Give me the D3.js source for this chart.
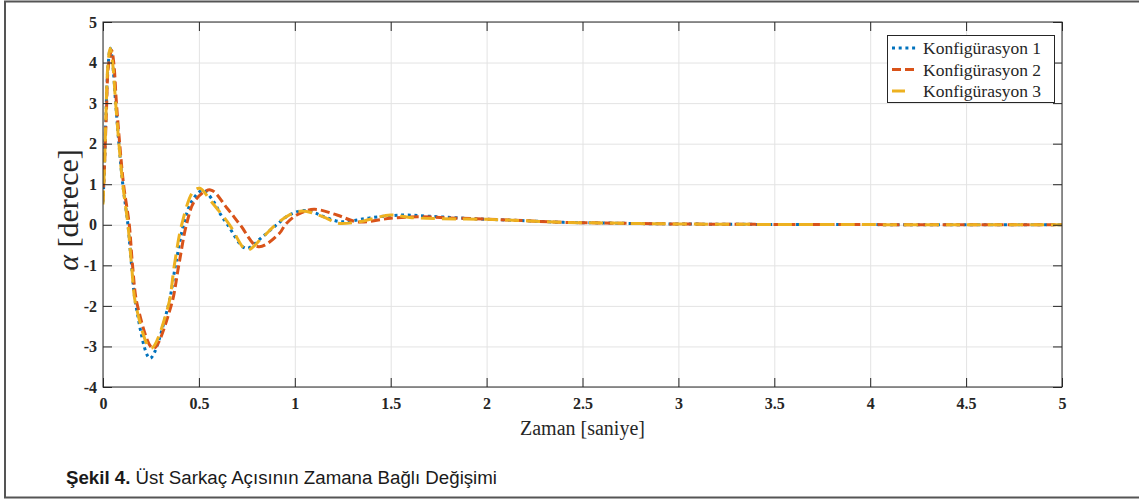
<!DOCTYPE html>
<html lang="tr">
<head>
    <meta charset="UTF-8">
    <title>Şekil 4</title>
    <script src="https://cdn.jsdelivr.net/npm/d3@7"></script>
    <style>
        body { margin: 0; background: #fff; }
        .tick text { font-family: "Liberation Serif", "Times New Roman", serif; font-weight: bold; font-size: 16px; fill: #262626; }
        .grid line { stroke: #e3e3e3; stroke-width: 1; }
        .grid path { stroke: none; }
    </style>
</head>
<body>
<svg id="chart" width="1139" height="501"></svg>
<script>
// zaman (s) ve açı (derece) değerleri
const t1 = [0, 0.008, 0.016, 0.026, 0.038, 0.05, 0.066, 0.083, 0.103, 0.13, 0.149, 0.172, 0.245, 0.34, 0.378, 0.42, 0.462, 0.52, 0.58, 0.61, 0.65, 0.745, 0.83, 0.905, 0.97, 1.04, 1.1, 1.15, 1.235, 1.3, 1.39, 1.56, 1.7, 1.85, 2.0, 2.2, 2.4, 2.6, 2.8, 3.0, 3.3, 3.6, 4.0, 4.5, 5.0];
const alpha1 = [0.55, 1.5, 2.8, 3.9, 4.35, 4.0, 3.0, 2.0, 1.0, 0, -1, -2, -3.29, -2, -1, 0, 0.57, 0.85, 0.55, 0.28, 0, -0.58, -0.3, 0, 0.24, 0.35, 0.3, 0.2, 0.08, 0.1, 0.17, 0.24, 0.21, 0.17, 0.135, 0.1, 0.06, 0.045, 0.03, 0.02, 0.012, 0.007, 0.004, 0.002, 0];

const t2 = [0, 0.008, 0.018, 0.028, 0.045, 0.056, 0.07, 0.087, 0.107, 0.137, 0.154, 0.18, 0.262, 0.355, 0.395, 0.435, 0.48, 0.56, 0.645, 0.715, 0.81, 0.92, 0.95, 1.01, 1.1, 1.22, 1.33, 1.5, 1.65, 1.8, 2.0, 2.2, 2.4, 2.6, 2.8, 3.0, 3.3, 3.6, 4.0, 4.5, 5.0];
const alpha2 = [0.6, 1.5, 2.8, 3.9, 4.3, 4.0, 3.0, 2.0, 1.0, 0, -1, -2, -3.05, -2, -1, 0, 0.6, 0.86, 0.42, 0, -0.54, -0.21, 0, 0.24, 0.38, 0.24, 0.07, 0.16, 0.2, 0.17, 0.14, 0.1, 0.06, 0.045, 0.03, 0.02, 0.012, 0.007, 0.004, 0.002, 0];

const t3 = [0, 0.008, 0.016, 0.025, 0.037, 0.05, 0.066, 0.083, 0.103, 0.13, 0.149, 0.172, 0.25, 0.34, 0.372, 0.41, 0.47, 0.505, 0.56, 0.66, 0.75, 0.83, 0.9, 0.97, 1.04, 1.1, 1.166, 1.22, 1.32, 1.5, 1.6, 1.76, 2.0, 2.2, 2.4, 2.6, 2.8, 3.0, 3.3, 3.6, 4.0, 4.5, 5.0];
const alpha3 = [0.5, 1.5, 2.8, 3.9, 4.35, 4.0, 3.0, 2.0, 1.0, 0, -1, -2, -3.05, -2, -1, 0, 0.82, 0.9, 0.6, 0, -0.62, -0.32, 0, 0.24, 0.34, 0.28, 0.16, 0.04, 0.06, 0.24, 0.18, 0.15, 0.135, 0.1, 0.06, 0.045, 0.03, 0.02, 0.012, 0.007, 0.004, 0.002, 0];

const seriesNames = ['Konfigürasyon 1', 'Konfigürasyon 2', 'Konfigürasyon 3'];
const xTicks = [0, 0.5, 1, 1.5, 2, 2.5, 3, 3.5, 4, 4.5, 5];
const yTicks = [-4, -3, -2, -1, 0, 1, 2, 3, 4, 5];

const series = [
    { name: seriesNames[0], t: t1, v: alpha1, color: '#0072BD', dash: '3,3.7' },
    { name: seriesNames[1], t: t2, v: alpha2, color: '#D95319', dash: '9,4' },
    { name: seriesNames[2], t: t3, v: alpha3, color: '#EDB120', dash: '14,7' }
];

const svg = d3.select('#chart');

// dış çerçeve
svg.append('rect')
    .attr('x', 5).attr('y', 1.5)
    .attr('width', 1150).attr('height', 496)
    .attr('fill', 'none')
    .attr('stroke', '#555').attr('stroke-width', 2);

const pLeft = 103, pRight = 1062, pTop = 22, pBottom = 387;
const x = d3.scaleLinear().domain([0, 5]).range([pLeft, pRight]);
const y = d3.scaleLinear().domain([-4, 5]).range([pBottom, pTop]);

// ızgara
svg.append('g').attr('class', 'grid')
    .attr('transform', `translate(0,${pBottom})`)
    .call(d3.axisBottom(x).tickValues(xTicks).tickSize(-(pBottom - pTop)).tickFormat(''));
svg.append('g').attr('class', 'grid')
    .attr('transform', `translate(${pLeft},0)`)
    .call(d3.axisLeft(y).tickValues(yTicks).tickSize(-(pRight - pLeft)).tickFormat(''));

// eğriler
svg.append('clipPath').attr('id', 'plotClip')
    .append('rect').attr('x', pLeft).attr('y', pTop).attr('width', pRight - pLeft).attr('height', pBottom - pTop);

series.forEach(s => {
    const pts = s.t.map((tt, i) => [tt, s.v[i]]);
    const line = d3.line()
        .x(d => x(d[0]))
        .y(d => y(d[1]))
        .curve(d3.curveCatmullRom.alpha(0.5));
    svg.append('path')
        .datum(pts)
        .attr('clip-path', 'url(#plotClip)')
        .attr('d', line)
        .attr('fill', 'none')
        .attr('stroke', s.color)
        .attr('stroke-width', 3)
        .attr('stroke-dasharray', s.dash);
});

// eksenler (içe dönük tikler, dört kenarda)
const tk = 9;
svg.append('g')
    .attr('transform', `translate(0,${pBottom})`)
    .call(d3.axisBottom(x).tickValues(xTicks).tickSizeInner(-tk).tickSizeOuter(0).tickPadding(11).tickFormat(d => String(d)))
    .call(g => g.select('.domain').remove())
    .call(g => g.selectAll('line').attr('stroke', '#262626'));
svg.append('g')
    .attr('transform', `translate(${pLeft},0)`)
    .call(d3.axisLeft(y).tickValues(yTicks).tickSizeInner(-tk).tickSizeOuter(0).tickPadding(6).tickFormat(d => String(d)))
    .call(g => g.select('.domain').remove())
    .call(g => g.selectAll('line').attr('stroke', '#262626'));
svg.append('g')
    .attr('transform', `translate(0,${pTop})`)
    .call(d3.axisTop(x).tickValues(xTicks).tickSizeInner(-tk).tickSizeOuter(0).tickFormat(''))
    .call(g => g.select('.domain').remove())
    .call(g => g.selectAll('line').attr('stroke', '#262626'));
svg.append('g')
    .attr('transform', `translate(${pRight},0)`)
    .call(d3.axisRight(y).tickValues(yTicks).tickSizeInner(-tk).tickSizeOuter(0).tickFormat(''))
    .call(g => g.select('.domain').remove())
    .call(g => g.selectAll('line').attr('stroke', '#262626'));

svg.append('rect')
    .attr('x', pLeft).attr('y', pTop)
    .attr('width', pRight - pLeft).attr('height', pBottom - pTop)
    .attr('fill', 'none').attr('stroke', '#262626').attr('stroke-width', 1);

// eksen başlıkları
svg.append('text')
    .attr('x', (pLeft + pRight) / 2).attr('y', 435)
    .attr('text-anchor', 'middle')
    .attr('font-family', '"Liberation Serif", "Times New Roman", serif')
    .attr('font-size', '20px').attr('fill', '#262626')
    .text('Zaman [saniye]');

const yl = svg.append('text')
    .attr('transform', 'translate(78,210) rotate(-90)')
    .attr('text-anchor', 'middle')
    .attr('font-family', '"Liberation Serif", "Times New Roman", serif')
    .attr('font-size', '30px').attr('fill', '#262626');
yl.append('tspan').attr('font-style', 'italic').text('α');
yl.append('tspan').text(' [derece]');

// lejant
const lg = svg.append('g');
lg.append('rect')
    .attr('x', 887.5).attr('y', 35.5).attr('width', 167).attr('height', 67)
    .attr('fill', '#fff').attr('stroke', '#262626').attr('stroke-width', 1);
series.forEach((s, i) => {
    const ly = 48 + i * 21.5;
    lg.append('line')
        .attr('x1', 892).attr('x2', 917).attr('y1', ly).attr('y2', ly)
        .attr('stroke', s.color).attr('stroke-width', 3)
        .attr('stroke-dasharray', i === 2 ? '13,30' : s.dash);
    lg.append('text')
        .attr('x', 923).attr('y', ly + 6)
        .attr('font-family', '"Liberation Serif", "Times New Roman", serif')
        .attr('font-size', '17.5px').attr('fill', '#262626')
        .text(s.name);
});

// şekil altyazısı
const cap = svg.append('text')
    .attr('x', 66).attr('y', 484)
    .attr('font-family', '"Liberation Sans Narrow", "Arial Narrow", "Liberation Sans", sans-serif')
    .attr('font-size', '18px').attr('fill', '#1a1a1a')
    .attr('textLength', 431).attr('lengthAdjust', 'spacingAndGlyphs');
cap.append('tspan').attr('font-weight', 'bold').text('Şekil 4.');
cap.append('tspan').text(' Üst Sarkaç Açısının Zamana Bağlı Değişimi');
</script>
</body>
</html>
